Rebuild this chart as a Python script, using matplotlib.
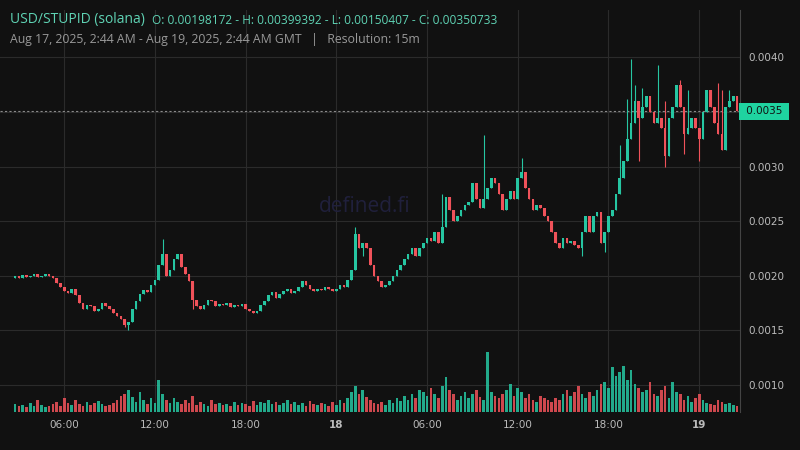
import numpy as np
import matplotlib.pyplot as plt

# 15m candles, Aug 17 02:45 -> Aug 19 02:30 GMT (values in 1e-3)
first_open = 1.98172
closes = [
    2.00, 1.98, 2.01, 1.99, 2.00, 2.02, 1.99, 2.00, 2.02, 2.00, 1.98, 1.93,
    1.90, 1.86, 1.84, 1.88, 1.82, 1.75, 1.70, 1.73, 1.72, 1.68, 1.70, 1.75,
    1.72, 1.70, 1.66, 1.63, 1.60, 1.55, 1.58, 1.70, 1.77, 1.83, 1.87, 1.85,
    1.92, 1.96, 2.10, 2.20, 2.00, 2.05, 2.15, 2.20, 2.08, 2.02, 1.95, 1.78,
    1.72, 1.70, 1.73, 1.78, 1.77, 1.72, 1.74, 1.73, 1.75, 1.71, 1.73, 1.72,
    1.74, 1.70, 1.68, 1.66, 1.68, 1.73, 1.77, 1.82, 1.85, 1.80, 1.83, 1.86,
    1.88, 1.84, 1.86, 1.90, 1.95, 1.92, 1.88, 1.86, 1.88, 1.87, 1.90, 1.88,
    1.86, 1.88, 1.92, 1.90, 1.96, 2.05, 2.38, 2.25, 2.30, 2.25, 2.10, 2.00,
    1.95, 1.90, 1.92, 1.95, 2.00, 2.05, 2.10, 2.15, 2.20, 2.25, 2.18, 2.25,
    2.30, 2.35, 2.32, 2.40, 2.30, 2.45, 2.72, 2.60, 2.50, 2.55, 2.60, 2.65,
    2.68, 2.85, 2.70, 2.62, 2.70, 2.80, 2.90, 2.85, 2.75, 2.60, 2.70, 2.78,
    2.70, 2.90, 2.95, 2.80, 2.70, 2.60, 2.65, 2.62, 2.55, 2.50, 2.40, 2.30,
    2.25, 2.35, 2.30, 2.32, 2.28, 2.25, 2.40, 2.55, 2.40, 2.55, 2.58, 2.30,
    2.40, 2.55, 2.60, 2.75, 2.90, 3.05, 3.25, 3.40, 3.60, 3.45, 3.55, 3.65,
    3.50, 3.40, 3.45, 3.35, 3.10, 3.45, 3.55, 3.75, 3.55, 3.30, 3.35, 3.45,
    3.35, 3.25, 3.50, 3.70, 3.55, 3.40, 3.30, 3.15, 3.55, 3.60, 3.65, 3.50733,
]
# notable wicks (index -> value)
high_spikes = {39: 2.34, 90: 2.45, 113: 2.75, 124: 3.29, 134: 3.08, 160: 3.20,
               162: 3.62, 163: 3.99, 164: 3.75, 166: 3.72, 170: 3.93, 172: 3.60,
               176: 3.79, 178: 3.70, 186: 3.77, 187: 3.70, 189: 3.70}
low_spikes = {30: 1.504, 29: 1.53, 47: 1.70, 92: 2.18, 150: 2.18, 156: 2.22,
              165: 3.05, 172: 3.00, 177: 3.12, 181: 3.05}
volumes = [
    8, 6, 7, 5, 9, 6, 12, 7, 5, 6, 8, 10,
    6, 14, 9, 7, 12, 8, 6, 10, 7, 9, 11, 8,
    6, 7, 9, 12, 16, 18, 22, 15, 10, 20, 12, 8,
    14, 9, 32, 18, 12, 9, 14, 10, 8, 12, 9, 16,
    7, 10, 8, 6, 12, 8, 9, 7, 8, 6, 10, 7,
    9, 8, 6, 11, 7, 10, 9, 12, 8, 10, 7, 9,
    12, 8, 10, 7, 9, 6, 11, 8, 7, 9, 8, 6,
    10, 7, 12, 9, 14, 20, 26, 18, 22, 15, 12, 9,
    8, 10, 7, 12, 9, 14, 11, 16, 12, 18, 14, 22,
    20, 16, 24, 18, 14, 26, 35, 22, 18, 12, 16, 20,
    14, 18, 22, 15, 12, 60, 20, 16, 14, 18, 22, 28,
    16, 24, 20, 14, 18, 12, 10, 16, 14, 12, 10, 14,
    12, 18, 22, 16, 20, 26, 18, 14, 20, 16, 22, 28,
    30, 24, 45, 36, 40, 46, 32, 42, 28, 24, 20, 22,
    30, 18, 16, 22, 26, 14, 30, 20, 18, 12, 16, 10,
    14, 18, 12, 9, 8, 7, 12, 10, 8, 9, 7, 6,
]

up_col = "#26c6a2"
down_col = "#f0525a"
bg = "#111111"
grid_col = "#2b2b2b"

closes = np.array(closes) * 1e-3
opens = np.concatenate([[first_open * 1e-3], closes[:-1]])
n = len(closes)
idx = np.arange(n)
highs = np.maximum(opens, closes)
lows = np.minimum(opens, closes)
for k, v in high_spikes.items():
    highs[k] = max(highs[k], v * 1e-3)
for k, v in low_spikes.items():
    lows[k] = min(lows[k], v * 1e-3)
up = closes >= opens
colors = np.where(up, up_col, down_col)

fig = plt.figure(figsize=(8, 4.5), dpi=100, facecolor=bg)
ax = fig.add_axes([0, 38 / 450, 740 / 800, 402 / 450], facecolor=bg)
vax = ax.twinx()

ax.vlines(idx, lows, highs, colors=colors, linewidth=0.8, zorder=3)
body = np.maximum(np.abs(closes - opens), 0.000005)
ax.bar(idx, body, bottom=np.minimum(opens, closes), width=0.7, color=colors, zorder=4)

vax.bar(idx, volumes, width=0.7, color=colors, alpha=0.85)
vax.set_ylim(0, 402)
vax.set_yticks([])
for s in vax.spines.values():
    s.set_visible(False)

ax.set_ylim(0.000752, 0.004435)
ax.set_xlim(-4, 191.8)
ax.set_yticks([0.0010, 0.0015, 0.0020, 0.0025, 0.0030, 0.0035, 0.0040])
ax.set_yticklabels(["0.0010", "0.0015", "0.0020", "0.0025", "0.0030", "", "0.0040"])
ax.yaxis.tick_right()
ax.tick_params(axis="y", colors="#bbbbbb", labelsize=7.5, length=0, pad=6)
ax.set_xticks([13, 37, 61, 85, 109, 133, 157, 181])
ax.set_xticklabels(["06:00", "12:00", "18:00", "18", "06:00", "12:00", "18:00", "19"])
for lab in ax.get_xticklabels():
    if lab.get_text() in ("18", "19"):
        lab.set_fontweight("bold")
ax.tick_params(axis="x", colors="#bbbbbb", labelsize=7.5, length=0, pad=6)
ax.grid(True, color=grid_col, linewidth=0.8)
ax.set_axisbelow(True)
for s in ax.spines.values():
    s.set_visible(False)
ax.spines["right"].set_visible(True)
ax.spines["right"].set_color("#444444")

last = closes[-1]
ax.axhline(last, color="#8a8a8a", linestyle=(0, (2, 2)), linewidth=0.8, zorder=2)
ax.text(1.004, last, " 0.0035 ", transform=ax.get_yaxis_transform(), va="center",
        ha="left", fontsize=7.5, color="#111111",
        bbox=dict(boxstyle="square,pad=0.35", fc="#1fd3a0", ec="none"))

fig.text(365 / 800, 1 - 207 / 450, "defined.fi", color="#20203c", fontsize=15,
         ha="center", va="center", family="Open Sans")
fig.text(10 / 800, 1 - 19 / 450, "USD/STUPID (solana)", color="#5fd3b4", fontsize=10,
         va="center", family="Open Sans")
fig.text(152 / 800, 1 - 20 / 450,
         "O: 0.00198172 - H: 0.00399392 - L: 0.00150407 - C: 0.00350733",
         color="#5fd3b4", fontsize=8.6, va="center", family="Open Sans")
fig.text(10 / 800, 1 - 40 / 450,
         "Aug 17, 2025, 2:44 AM - Aug 19, 2025, 2:44 AM GMT   |   Resolution: 15m",
         color="#999999", fontsize=8.8, va="center", family="Open Sans")

fig.savefig("out.png", dpi=100, facecolor=bg)
